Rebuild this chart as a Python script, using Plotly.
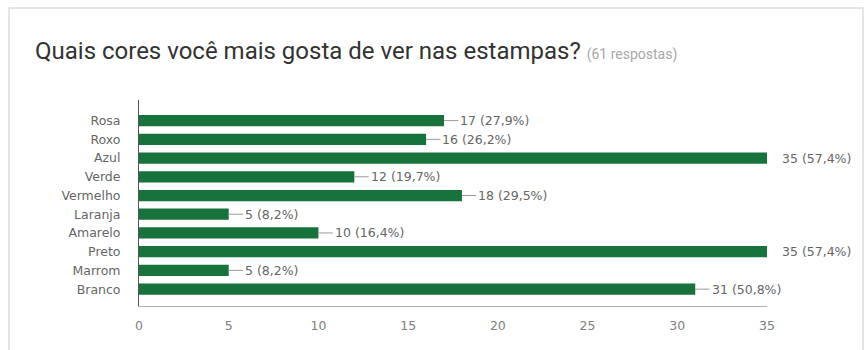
import plotly.graph_objects as go

# Survey answers: favourite colours in prints (61 responses)
categories = ["Rosa", "Roxo", "Azul", "Verde", "Vermelho", "Laranja",
              "Amarelo", "Preto", "Marrom", "Branco"]
counts = [17, 16, 35, 12, 18, 5, 10, 35, 5, 31]
percent_labels = ["27,9%", "26,2%", "57,4%", "19,7%", "29,5%", "8,2%",
                  "16,4%", "57,4%", "8,2%", "50,8%"]
x_ticks = [0, 5, 10, 15, 20, 25, 30, 35]
total_responses = 61

W, H = 865, 350
L, R, T, B = 139, 98, 100, 44
X_MAX = 35
BAR_GREEN = "#17723c"
TEXT_GRAY = "#666666"
LABEL_FONT = "DejaVu Sans, Liberation Sans, Arial"

fig = go.Figure()
fig.add_trace(go.Bar(
    x=counts, y=categories, orientation="h",
    marker=dict(color=BAR_GREEN, line=dict(width=0)),
    width=0.6, hoverinfo="x+y",
))

annotations = []
shapes = []
for cat, v, p in zip(categories, counts, percent_labels):
    label = f"{v} ({p})"
    if v >= X_MAX:
        # labels for bars reaching the axis end sit outside the plot, no leader
        annotations.append(dict(x=v, y=cat, xref="x", yref="y", text=label,
                                showarrow=False, xanchor="left", xshift=13,
                                font=dict(size=12.5, color=TEXT_GRAY,
                                          family=LABEL_FONT)))
    else:
        shapes.append(dict(type="line", xref="x", yref="y",
                           x0=v, x1=v + 0.8, y0=cat, y1=cat,
                           line=dict(color="#9a9a9a", width=1)))
        annotations.append(dict(x=v + 0.8, y=cat, xref="x", yref="y", text=label,
                                showarrow=False, xanchor="left", xshift=0,
                                font=dict(size=12.5, color=TEXT_GRAY,
                                          family=LABEL_FONT)))

# card outline around the whole chart
pw, ph = W - L - R, H - T - B
def px_to_paper_x(px):
    return (px - L) / pw
def px_to_paper_y(py):
    return (H - B - py) / ph

shapes.append(dict(type="rect", xref="paper", yref="paper",
                   x0=px_to_paper_x(9), x1=px_to_paper_x(863),
                   y0=px_to_paper_y(352), y1=px_to_paper_y(8),
                   line=dict(color="#dcdcdc", width=1.5), layer="below"))

fig.update_layout(
    width=W, height=H,
    margin=dict(l=L, r=R, t=T, b=B, pad=0),
    paper_bgcolor="white", plot_bgcolor="white",
    showlegend=False,
    title=dict(
        text=("Quais cores você mais gosta de ver nas estampas? "
              f"<span style='font-size:14px;color:#a8a8a8'>({total_responses} respostas)</span>"),
        x=35 / W, xref="container", xanchor="left",
        y=1 - 51 / H, yref="container", yanchor="middle",
        font=dict(size=24, color="#333333", family="Roboto, Arial"),
    ),
    xaxis=dict(range=[0, X_MAX], tickvals=x_ticks, showgrid=False,
               zeroline=False, showline=True, linecolor="#b0b0b0", linewidth=1,
               ticks="", tickfont=dict(size=12.5, color="#808080",
                                       family=LABEL_FONT),
               ticklabelstandoff=8, fixedrange=True),
    yaxis=dict(type="category", range=[9.9, -1.1], showgrid=False,
               zeroline=False, showline=True, linecolor="#555555", linewidth=1,
               ticks="", ticklabelstandoff=15,
               tickfont=dict(size=12.5, color=TEXT_GRAY, family=LABEL_FONT),
               fixedrange=True),
    annotations=annotations,
    shapes=shapes,
    bargap=0.4,
)

fig.write_html("out.html")
